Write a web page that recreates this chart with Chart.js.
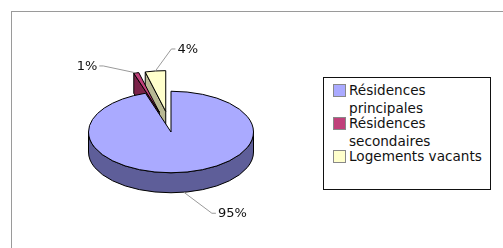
<!DOCTYPE html>
<html><head><meta charset="utf-8">
<script src="https://cdn.jsdelivr.net/npm/chart.js@4/dist/chart.umd.min.js"></script>
<style>
html,body{margin:0;padding:0;background:#fff;overflow:hidden}
#wrap{position:relative;width:503px;height:248px;overflow:hidden}
#frame{position:absolute;left:11px;top:11px;width:600px;height:400px;border:1px solid #9a9a9a}
#c{position:absolute;left:0;top:0}
#legend{position:absolute;left:323px;top:77px;width:166px;height:111px;border:1px solid #111;font:13.6px "DejaVu Sans",sans-serif;color:#111;background:#fff}
.item{position:relative;padding-left:25px;line-height:18px;margin-top:-3px}
.item:first-child{margin-top:3px}
.sw{position:absolute;left:9px;top:3px;width:11px;height:11px;border:1px solid #888}
</style></head>
<body><div id="wrap"><div id="frame"></div><canvas id="c" width="503" height="248"></canvas><div id="legend"></div></div>
<script>
const categories = ['Résidences principales', 'Résidences secondaires', 'Logements vacants'];
const values = [95, 1, 4];
const percentLabels = ['95%', '1%', '4%'];
const topColors = ['#AAAAFF', '#C0407A', '#FFFFCC'];
const wallColors = ['#5E5E99', '#6E1F44', '#A8A888'];
const faceColors = ['#7A7AC0', '#7A2249', '#B8B894'];

// legend (HTML)
const lg = document.getElementById('legend');
categories.forEach((c, i) => {
  const d = document.createElement('div'); d.className = 'item';
  const s = document.createElement('span'); s.className = 'sw'; s.style.background = topColors[i];
  d.appendChild(s); d.appendChild(document.createTextNode(c)); lg.appendChild(d);
});

const K = 0.494, SY = 132, DEPTH = 20;
const leaders = [{dx: 28, dy: 21}, {dx: -33, dy: -7}, {dx: 16, dy: -22}];

function geo(chart) {
  const meta = chart.getDatasetMeta(0);
  return meta.data.map((a, i) => {
    const p = a.getProps(['x', 'y', 'startAngle', 'endAngle', 'outerRadius']);
    const off = a.options.offset || 0;
    const mid = (p.startAngle + p.endAngle) / 2;
    const ox = p.x + off * Math.cos(mid);
    const oy = SY + off * Math.sin(mid) * K;
    return {i, ox, oy, r: p.outerRadius, s: p.startAngle, e: p.endAngle, mid};
  });
}

const pie3d = {
  id: 'pie3d',
  beforeDatasetsDraw(chart) {
    const ctx = chart.ctx;
    const g = geo(chart).sort((a, b) => Math.sin(a.mid) - Math.sin(b.mid));
    ctx.save();
    ctx.lineWidth = 1; ctx.strokeStyle = '#000'; ctx.lineJoin = 'round';
    g.forEach(sl => {
      const {ox, oy, r, s, e, i} = sl;
      const ry = r * K;
      const pt = (t, dz) => [ox + r * Math.cos(t), oy + ry * Math.sin(t) + dz];
      const faces = [];
      if (Math.cos(s) < -1e-6) faces.push(s);
      if (Math.cos(e) > 1e-6) faces.push(e);
      faces.forEach(t => {
        const a = pt(t, 0);
        ctx.beginPath();
        ctx.moveTo(ox, oy); ctx.lineTo(a[0], a[1]); ctx.lineTo(a[0], a[1] + DEPTH); ctx.lineTo(ox, oy + DEPTH); ctx.closePath();
        ctx.fillStyle = faceColors[i]; ctx.fill(); ctx.stroke();
      });
      for (const shift of [-2 * Math.PI, 0, 2 * Math.PI]) {
        const a0 = Math.max(s + shift, 0), a1 = Math.min(e + shift, Math.PI);
        if (a1 > a0) {
          ctx.beginPath();
          ctx.ellipse(ox, oy, r, ry, 0, a0, a1);
          ctx.ellipse(ox, oy + DEPTH, r, ry, 0, a1, a0, true);
          ctx.closePath();
          ctx.fillStyle = wallColors[i]; ctx.fill(); ctx.stroke();
        }
      }
      ctx.beginPath();
      ctx.moveTo(ox, oy);
      ctx.ellipse(ox, oy, r, ry, 0, s, e);
      ctx.closePath();
      ctx.fillStyle = topColors[i]; ctx.fill(); ctx.stroke();
    });
    ctx.restore();
    // percentage labels with leader lines
    ctx.save();
    ctx.font = '13px "DejaVu Sans", sans-serif';
    ctx.textBaseline = 'middle';
    geo(chart).forEach(sl => {
      const {ox, oy, r, mid, i} = sl;
      const ry = r * K;
      const ax = ox + r * Math.cos(mid);
      let ay = oy + ry * Math.sin(mid);
      if (Math.sin(mid) > 0) ay += DEPTH;
      const L = leaders[i];
      const ex = ax + L.dx, ey = ay + L.dy;
      const dir = L.dx >= 0 ? 1 : -1;
      ctx.beginPath();
      ctx.strokeStyle = '#9a9a9a'; ctx.lineWidth = 1;
      ctx.moveTo(ax, ay); ctx.lineTo(ex, ey); ctx.lineTo(ex + 4 * dir, ey);
      ctx.stroke();
      ctx.fillStyle = '#111';
      ctx.textAlign = dir > 0 ? 'left' : 'right';
      ctx.fillText(percentLabels[i], ex + 6 * dir, ey + 0.5);
    });
    ctx.restore();
    return false;
  }
};

new Chart(document.getElementById('c'), {
  type: 'pie',
  data: {
    labels: categories,
    datasets: [{
      data: values,
      backgroundColor: topColors,
      borderColor: '#000',
      borderWidth: 1,
      offset: [0, 42, 42]
    }]
  },
  options: {
    responsive: false,
    animation: false,
    layout: {padding: {left: 67, right: 228, top: 20, bottom: 20}},
    plugins: {legend: {display: false}, tooltip: {enabled: false}}
  },
  plugins: [pie3d]
});
</script>
</body></html>
